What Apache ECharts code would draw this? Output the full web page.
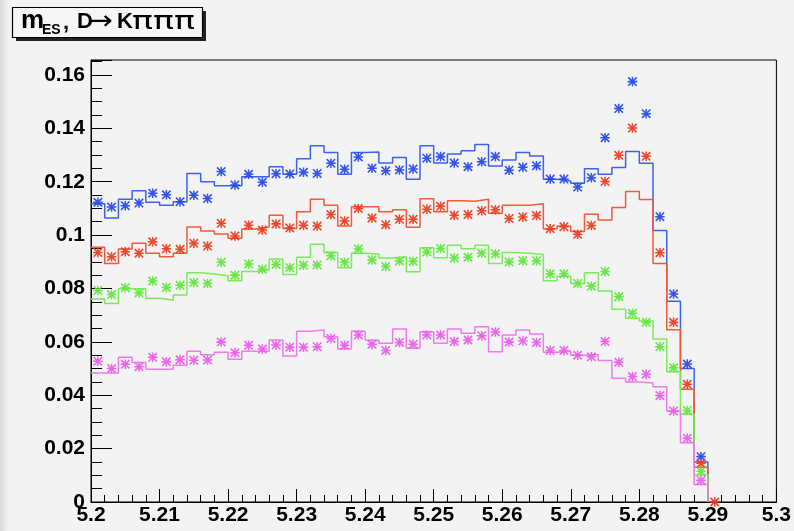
<!DOCTYPE html>
<html><head><meta charset="utf-8">
<script src="https://cdn.jsdelivr.net/npm/echarts@6/dist/echarts.min.js"></script>
<style>html,body{margin:0;padding:0;background:#f3f3f3}#c{width:794px;height:531px}</style>
</head><body><div id="c"></div>
<script>
// Binning (50 bins of 0.002 from 5.20 to 5.30; bins 0..44 filled)
const binLow = 5.2;
const binWidth = 0.002;

// Blue
const bluePoints = [0.1123,0.1105,0.1110,0.1120,0.1157,0.1151,0.1125,0.1149,0.1137,0.1238,
  0.1188,0.1228,0.1198,0.1230,0.1229,0.1235,0.1231,0.1269,0.1247,0.1293,
  0.1250,0.1241,0.1244,0.1248,0.1288,0.1294,0.1270,0.1256,0.1275,0.1294,
  0.1243,0.1254,0.1260,0.1210,0.1210,0.1180,0.1215,0.1365,0.1474,0.1575,
  0.1455,0.1069,0.0779,0.0517,0.0170];
const blueHist = [0.1117,0.1064,0.1134,0.1166,0.1123,0.1112,0.1125,0.1231,0.1200,0.1185,
  0.1185,0.1219,0.1219,0.1256,0.1228,0.1286,0.1335,0.1309,0.1228,0.1309,
  0.1311,0.1270,0.1291,0.1209,0.1335,0.1270,0.1304,0.1316,0.1339,0.1259,
  0.1281,0.1309,0.1296,0.1209,0.1203,0.1194,0.1249,0.1228,0.1253,0.1313,
  0.1269,0.1017,0.0752,0.0500,0.0150];
// Red
const redPoints = [0.0935,0.0919,0.0938,0.0932,0.0975,0.0949,0.0947,0.0969,0.0959,0.1044,
  0.0997,0.1037,0.1019,0.1042,0.1027,0.1037,0.1034,0.1077,0.1053,0.1100,
  0.1064,0.1039,0.1059,0.1059,0.1097,0.1108,0.1074,0.1077,0.1091,0.1095,
  0.1062,0.1068,0.1073,0.1024,0.1031,0.1003,0.1036,0.1201,0.1299,0.1401,
  0.1295,0.0934,0.0673,0.0441,0.0145,0];
const redHist = [0.0954,0.0894,0.0948,0.0969,0.0932,0.0919,0.0932,0.1030,0.1015,0.1004,
  0.0988,0.1023,0.1030,0.1074,0.1025,0.1087,0.1134,0.1112,0.1034,0.1106,
  0.1106,0.1087,0.1095,0.1029,0.1136,0.1087,0.1129,0.1127,0.1134,0.1082,
  0.1112,0.1112,0.1117,0.1023,0.1034,0.1013,0.1078,0.1057,0.1103,0.1163,
  0.1133,0.0894,0.0645,0.0422,0.0130];
// Green
const greenPoints = [0.0792,0.0777,0.0803,0.0783,0.0828,0.0804,0.0812,0.0822,0.0819,0.0898,
  0.0850,0.0892,0.0872,0.0890,0.0878,0.0887,0.0888,0.0923,0.0898,0.0948,
  0.0907,0.0882,0.0903,0.0902,0.0937,0.0950,0.0914,0.0917,0.0932,0.0930,
  0.0899,0.0904,0.0904,0.0855,0.0855,0.0819,0.0808,0.0864,0.0769,0.0707,
  0.0673,0.0582,0.0503,0.0343,0.0115];
const greenHist = [0.0761,0.0744,0.0799,0.0799,0.0763,0.0756,0.0776,0.0859,0.0854,0.0848,
  0.0829,0.0864,0.0869,0.0910,0.0852,0.0917,0.0966,0.0935,0.0878,0.0932,
  0.0929,0.0914,0.0919,0.0863,0.0953,0.0915,0.0962,0.0949,0.0962,0.0894,
  0.0935,0.0932,0.0927,0.0829,0.0846,0.0819,0.0859,0.0791,0.0722,0.0688,
  0.0678,0.0611,0.0488,0.0329,0.0101];
// Magenta
const magentaPoints = [0.0527,0.0500,0.0516,0.0507,0.0542,0.0525,0.0533,0.0531,0.0532,0.0599,
  0.0559,0.0587,0.0573,0.0588,0.0580,0.0580,0.0582,0.0613,0.0587,0.0626,
  0.0591,0.0568,0.0598,0.0591,0.0626,0.0626,0.0601,0.0607,0.0623,0.0637,
  0.0599,0.0603,0.0598,0.0568,0.0568,0.0550,0.0544,0.0601,0.0524,0.0470,
  0.0479,0.0399,0.0341,0.0239,0.0081];
const magentaHist = [0.0483,0.0483,0.0542,0.0523,0.0497,0.0497,0.0512,0.0565,0.0552,0.0561,
  0.0535,0.0565,0.0565,0.0607,0.0547,0.0640,0.0644,0.0619,0.0573,0.0640,
  0.0606,0.0595,0.0648,0.0576,0.0638,0.0595,0.0648,0.0632,0.0657,0.0563,
  0.0626,0.0644,0.0629,0.0561,0.0566,0.0550,0.0553,0.0530,0.0464,0.0450,
  0.0446,0.0432,0.0340,0.0222,0.0066];

const xMin = 5.2, xMax = 5.3, xStep = 0.01;
const yMin = 0, yMax = 0.1656, yStep = 0.02;

function histData(h) {
  const d = h.map((v, i) => [binLow + i * binWidth, v]);
  d.push([binLow + h.length * binWidth, 0]);
  return d;
}
function pointData(p) {
  return p.map((v, i) => [binLow + (i + 0.5) * binWidth, v]);
}
const star = 'path://M4.2 0L5.8 0L5.8 10L4.2 10Z M0 4.2L10 4.2L10 5.8L0 5.8Z M0 1.2L1.2 0L10 8.8L8.8 10Z M8.8 0L10 1.2L1.2 10L0 8.8Z';

const sets = [
  {h: blueHist, p: bluePoints, line: '#3c62f2', pt: '#2447ea'},
  {h: redHist, p: redPoints, line: '#f25a3a', pt: '#ee3a1c'},
  {h: greenHist, p: greenPoints, line: '#7aec5a', pt: '#5ee63a'},
  {h: magentaHist, p: magentaPoints, line: '#f07af0', pt: '#ec5aec'}
];
const series = [];
sets.forEach(s => {
  series.push({type: 'line', step: 'end', data: histData(s.h), showSymbol: false, symbol: 'none',
    lineStyle: {color: s.line, width: 1.5}, z: 2, silent: true});
});
sets.forEach(s => {
  series.push({type: 'scatter', data: pointData(s.p), symbol: star, symbolSize: 9.5,
    itemStyle: {color: s.pt, opacity: 0.92}, z: 3, silent: true});
});

const fmt = v => String(parseFloat(v.toFixed(4)));
const labelFont = {color: '#000', fontFamily: 'Liberation Sans', fontWeight: 'bold', fontSize: 21};

function t(text, x, y, font, sx) {
  return {type: 'text', x: x, y: y, scaleX: sx || 1, silent: true,
    style: {text: text, font: font, fill: '#000', verticalAlign: 'middle', textVerticalAlign: 'middle', align: 'left'}};
}

const chart = echarts.init(document.getElementById('c'), null, {renderer: 'canvas'});
chart.setOption({
  animation: false,
  backgroundColor: '#f3f3f3',
  grid: {left: 91, right: 15, top: 60, bottom: 29, show: true, borderColor: '#000', borderWidth: 1, backgroundColor: 'transparent'},
  xAxis: {
    type: 'value', min: xMin, max: xMax, interval: xStep,
    axisLine: {show: true, onZero: false, lineStyle: {color: '#000', width: 1}},
    axisTick: {show: true, inside: true, length: 13, lineStyle: {color: '#000'}},
    minorTick: {show: true, splitNumber: 5, length: 7, lineStyle: {color: '#000'}},
    splitLine: {show: false},
    axisLabel: Object.assign({margin: 3, formatter: fmt}, labelFont)
  },
  yAxis: {
    type: 'value', min: yMin, max: yMax, interval: yStep,
    axisLine: {show: true, onZero: false, lineStyle: {color: '#000', width: 1}},
    axisTick: {show: true, inside: true, length: 21, lineStyle: {color: '#000'}},
    minorTick: {show: true, splitNumber: 4, length: 11, lineStyle: {color: '#000'}},
    splitLine: {show: false},
    axisLabel: Object.assign({margin: 6, showMaxLabel: false, formatter: fmt}, labelFont)
  },
  graphic: [
    {type: 'rect', shape: {x: 0, y: 0, width: 8, height: 531}, silent: true,
      style: {fill: new echarts.graphic.LinearGradient(0, 0, 1, 0, [{offset: 0, color: '#d9d9d9'}, {offset: 1, color: '#f1f1f1'}])}},
    {type: 'rect', shape: {x: 16, y: 11, width: 190, height: 30}, style: {fill: '#222'}, silent: true},
    {type: 'rect', shape: {x: 12.5, y: 7.5, width: 190, height: 30}, style: {fill: '#f6f6f6', stroke: '#000', lineWidth: 1.2}, silent: true},
    t('m', 21, 20.5, 'bold 26px "Liberation Sans"'),
    t('ES', 42, 30, 'bold 14px "Liberation Sans"'),
    t(',', 63, 22.5, 'bold 22px "Liberation Sans"'),
    t('D', 77, 22, 'bold 22px "Liberation Sans"'),
    t('\u2192', 88, 22, '26px "DejaVu Sans"', 1.15),
    t('K', 117, 22, 'bold 22px "Liberation Sans"'),
    t('\u03c0', 132, 23, '24px "DejaVu Sans"', 1.45),
    t('\u03c0', 153, 23, '24px "DejaVu Sans"', 1.45),
    t('\u03c0', 174, 23, '24px "DejaVu Sans"', 1.45)
  ],
  series: series
});
</script></body></html>
